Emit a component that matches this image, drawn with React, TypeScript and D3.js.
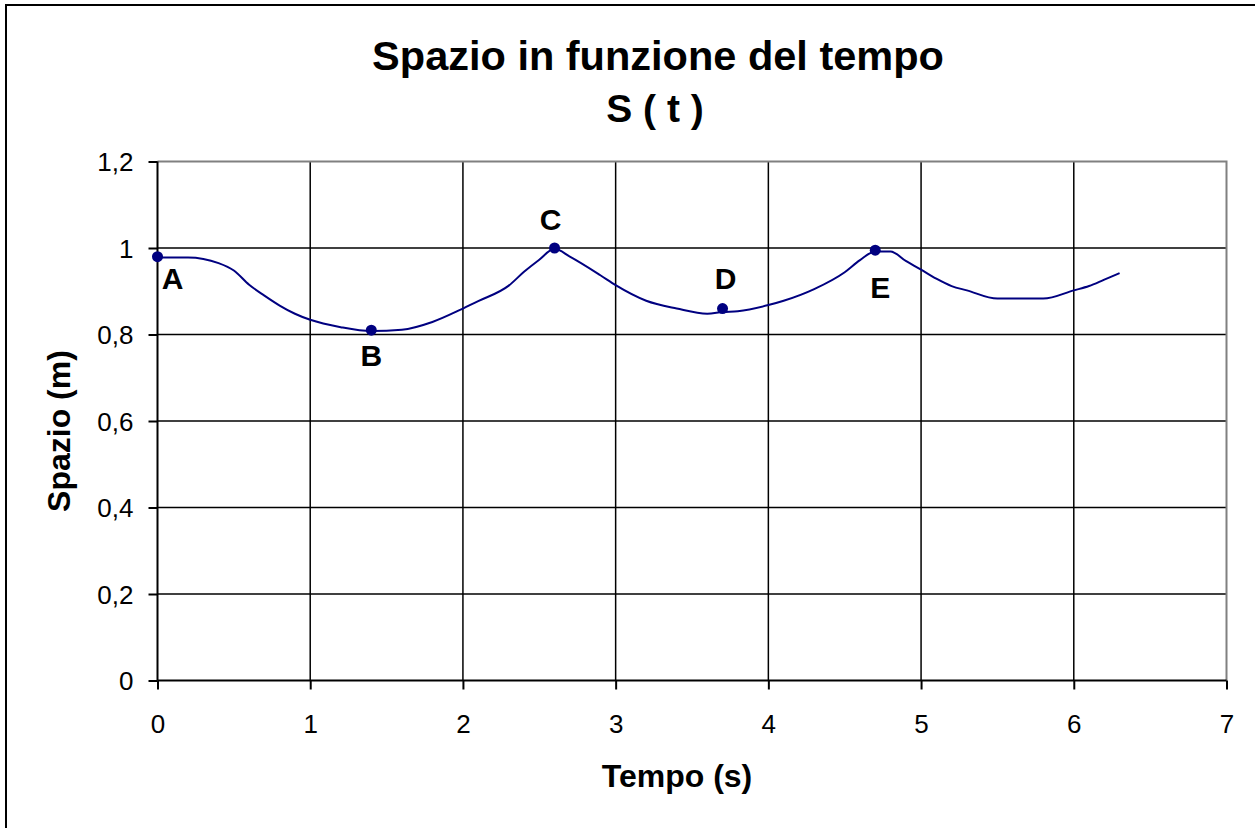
import React, { useEffect, useRef } from "react";
import * as d3 from "d3";

// Distance travelled over time (seconds, metres)
const timeValues = [0, 0.2, 0.4, 0.5, 0.6, 0.7, 0.8, 0.9, 1.0, 1.2, 1.4, 1.6, 1.8, 2.0, 2.1, 2.3, 2.4, 2.5, 2.6, 2.7, 2.9, 3.0, 3.2, 3.4, 3.6, 3.7, 3.8, 4.0, 4.1, 4.3, 4.5, 4.6, 4.7, 4.8, 4.9, 5.0, 5.1, 5.2, 5.3, 5.5, 5.8, 6.0, 6.1, 6.2, 6.3];
const spaceValues = [0.978, 0.978, 0.965, 0.948, 0.915, 0.89, 0.867, 0.848, 0.834, 0.817, 0.808, 0.811, 0.829, 0.86, 0.877, 0.913, 0.945, 0.973, 0.998, 0.98, 0.937, 0.914, 0.878, 0.86, 0.848, 0.852, 0.854, 0.868, 0.878, 0.905, 0.944, 0.972, 0.992, 0.992, 0.97, 0.95, 0.929, 0.912, 0.902, 0.883, 0.883, 0.902, 0.912, 0.927, 0.942];

// Labelled points on the curve
const pointNames = ["A", "B", "C", "D", "E"];
const pointTimes = [0, 1.4, 2.6, 3.7, 4.7];
const pointSpaces = [0.98, 0.81, 1.0, 0.86, 0.995];

const xTicks = [0, 1, 2, 3, 4, 5, 6, 7];
const yTicks = [0, 0.2, 0.4, 0.6, 0.8, 1.0, 1.2];

const W = 1255;
const H = 828;
const FONT = "Arial, 'Liberation Sans', Helvetica, sans-serif";
const NAVY = "#000080";

export default function App() {
  const ref = useRef<SVGSVGElement | null>(null);

  useEffect(() => {
    const svg = d3.select(ref.current);
    svg.selectAll("*").remove();

    const left = 157.5, right = 1226.5, top = 161.5, bottom = 680.5;
    const x = d3.scaleLinear().domain([0, 7]).range([left, right]);
    const y = d3.scaleLinear().domain([0, 1.2]).range([bottom, top]);

    svg.append("rect").attr("width", W).attr("height", H).attr("fill", "#fff");
    // Outer chart frame
    svg.append("rect").attr("x", 6).attr("y", 5).attr("width", W + 20).attr("height", H + 20)
      .attr("fill", "none").attr("stroke", "#000").attr("stroke-width", 2);

    // Gridlines
    const g = svg.append("g");
    g.selectAll("line.vg").data(xTicks.filter(t => t > 0 && t < 7)).enter().append("line")
      .attr("x1", d => x(d)).attr("x2", d => x(d)).attr("y1", top).attr("y2", bottom)
      .attr("stroke", "#000").attr("stroke-width", 1.5);
    g.selectAll("line.hg").data(yTicks.filter(t => t > 0 && t < 1.2)).enter().append("line")
      .attr("x1", left).attr("x2", right).attr("y1", d => y(d)).attr("y2", d => y(d))
      .attr("stroke", "#000").attr("stroke-width", 1.5);

    // Plot area border (top and right)
    svg.append("path")
      .attr("d", `M${left},${top}H${right}V${bottom}`)
      .attr("fill", "none").attr("stroke", "#808080").attr("stroke-width", 2);

    // Axes
    const xAxis = d3.axisBottom(x).tickValues(xTicks).tickSize(9).tickPadding(14)
      .tickFormat(d => String(d));
    const yAxis = d3.axisLeft(y).tickValues(yTicks).tickSize(9).tickPadding(15)
      .tickFormat(d => d3.format(".1~f")(d as number).replace(".", ","));

    const gx = svg.append("g").attr("transform", `translate(0,${bottom})`).call(xAxis);
    const gy = svg.append("g").attr("transform", `translate(${left},0)`).call(yAxis);
    [gx, gy].forEach(ax => {
      ax.selectAll("path.domain").attr("stroke", "#000").attr("stroke-width", 2);
      ax.selectAll(".tick line").attr("stroke", "#000").attr("stroke-width", 2);
      ax.selectAll(".tick text").attr("font-family", FONT).attr("font-size", 26).attr("fill", "#000");
    });
    gx.selectAll(".tick text").attr("dy", null).attr("y", 52);
    gy.selectAll(".tick text").attr("dy", "0.35em");
    gx.select("path.domain").attr("d", `M${left},0H${right}`);
    gy.select("path.domain").attr("d", `M0,${top}V${bottom}`);

    // Curve
    const pts = timeValues.map((t, i) => [t, spaceValues[i]] as [number, number]);
    const line = d3.line<[number, number]>()
      .x(d => x(d[0])).y(d => y(d[1]))
      .curve(d3.curveMonotoneX);
    svg.append("path").datum(pts).attr("d", line)
      .attr("fill", "none").attr("stroke", NAVY).attr("stroke-width", 2);

    // Markers
    svg.selectAll("circle.pt").data(pointTimes).enter().append("circle")
      .attr("cx", d => x(d)).attr("cy", (d, i) => y(pointSpaces[i])).attr("r", 5.5)
      .attr("fill", NAVY);

    // Point labels: [dx, dy] of each label baseline from its marker
    const labelOffsets = [[15, 32], [0, 36], [-4, -18], [3, -20], [5, 48]];
    svg.selectAll("text.pl").data(pointNames).enter().append("text")
      .attr("x", (d, i) => x(pointTimes[i]) + labelOffsets[i][0])
      .attr("y", (d, i) => y(pointSpaces[i]) + labelOffsets[i][1])
      .attr("text-anchor", "middle").attr("font-family", FONT).attr("font-weight", "bold")
      .attr("font-size", 30).attr("fill", "#000").text(d => d);

    // Titles
    svg.append("text").attr("x", 658).attr("y", 70).attr("text-anchor", "middle")
      .attr("font-family", FONT).attr("font-weight", "bold").attr("font-size", 41.5)
      .text("Spazio in funzione del tempo");
    svg.append("text").attr("x", 655).attr("y", 122).attr("text-anchor", "middle")
      .attr("font-family", FONT).attr("font-weight", "bold").attr("font-size", 39)
      .style("white-space", "pre")
      .text("S ( t )");
    svg.append("text").attr("x", 677).attr("y", 787).attr("text-anchor", "middle")
      .attr("font-family", FONT).attr("font-weight", "bold").attr("font-size", 32)
      .text("Tempo (s)");
    svg.append("text").attr("transform", "translate(70,431) rotate(-90)").attr("text-anchor", "middle")
      .attr("font-family", FONT).attr("font-weight", "bold").attr("font-size", 32)
      .text("Spazio (m)");
  }, []);

  return (
    <svg ref={ref} width={W} height={H}
      style={{ position: "absolute", left: 0, top: 0, display: "block" }} />
  );
}
